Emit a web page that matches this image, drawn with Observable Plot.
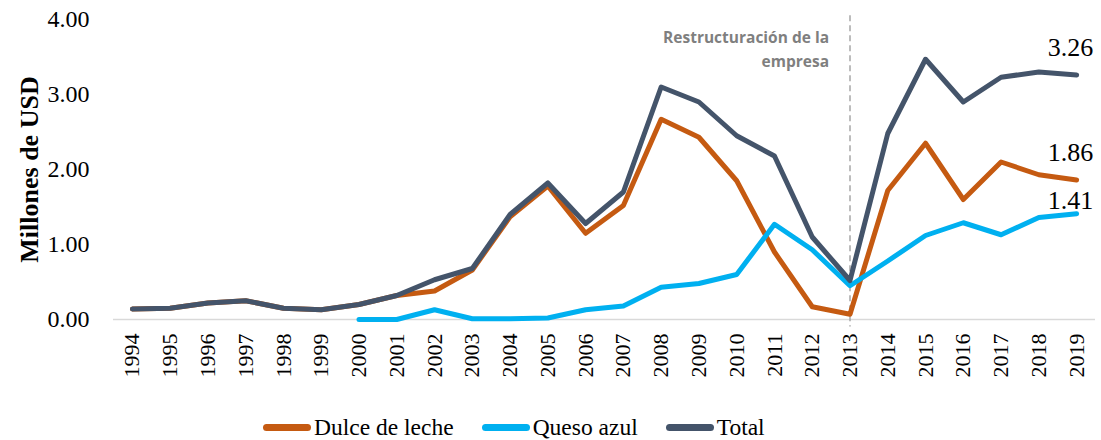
<!DOCTYPE html>
<html>
<head>
<meta charset="utf-8">
<script src="https://cdn.jsdelivr.net/npm/d3@7"></script>
<script src="https://cdn.jsdelivr.net/npm/@observablehq/plot@0.6"></script>
<style>
  body { margin: 0; background: #fff; }
  #chart { width: 1101px; }
  .legend { display: flex; justify-content: flex-start; align-items: center; font-family: "Liberation Serif", serif; font-size: 23.5px; color: #000; margin-top: 12px; padding-left: 263px; height: 30px; }
  .legend .item { display: flex; align-items: center; margin-right: 28px; }
  .legend .sw { width: 48px; height: 7px; border-radius: 4px; margin-right: 3px; }
</style>
</head>
<body>
<div id="chart"></div>
<script>
const years = [1994,1995,1996,1997,1998,1999,2000,2001,2002,2003,2004,2005,2006,2007,2008,2009,2010,2011,2012,2013,2014,2015,2016,2017,2018,2019];
const dulce = [0.14,0.15,0.22,0.25,0.15,0.13,0.20,0.32,0.38,0.66,1.37,1.78,1.15,1.52,2.67,2.43,1.85,0.90,0.17,0.07,1.72,2.35,1.60,2.10,1.93,1.86];
const quesoYears = [2000,2001,2002,2003,2004,2005,2006,2007,2008,2009,2010,2011,2012,2013,2014,2015,2016,2017,2018,2019];
const queso = [0.00,0.00,0.13,0.01,0.01,0.02,0.13,0.18,0.43,0.48,0.60,1.27,0.93,0.45,0.78,1.12,1.29,1.13,1.36,1.41];
const total = [0.14,0.15,0.22,0.25,0.15,0.13,0.20,0.32,0.53,0.68,1.40,1.82,1.28,1.70,3.10,2.90,2.45,2.18,1.10,0.52,2.48,3.47,2.90,3.23,3.30,3.26];
const seriesNames = ["Dulce de leche","Queso azul","Total"];
const colors = ["#C55A11","#00B0F0","#44546A"];
const yTicks = [0,1,2,3,4];
const eventYear = 2013;
const eventLabel = "Restructuración de la\nempresa";
const yTitle = "Millones de USD";
const endLabels = [{v: 3.26, dy: -27}, {v: 1.86, dy: -27}, {v: 1.41, dy: -13}];

const dDulce = years.map((y,i)=>({x:y, v:dulce[i]}));
const dQueso = quesoYears.map((y,i)=>({x:y, v:queso[i]}));
const dTotal = years.map((y,i)=>({x:y, v:total[i]}));
const lastYear = years[years.length-1];

const plot = Plot.plot({
  width: 1101,
  height: 400,
  marginLeft: 113,
  marginRight: 6,
  marginTop: 19,
  marginBottom: 81,
  style: { fontFamily: "Liberation Serif, serif", fontSize: "20px", color: "#000", background: "#fff" },
  x: { domain: [years[0]-0.5, lastYear+0.5], ticks: years, tickFormat: d => String(d) },
  y: { domain: [0, 4], ticks: yTicks, tickFormat: d3.format(".2f") },
  marks: [
    Plot.ruleY([0], { stroke: "#d9d9d9", strokeWidth: 1.5 }),
    Plot.ruleX([eventYear], { y1: 4.05, y2: -0.1, stroke: "#a6a6a6", strokeWidth: 1.5, strokeDasharray: "6,4" }),
    Plot.axisX({ ticks: years, tickFormat: d => String(d), tickRotate: -90, tickSize: 0, tickPadding: 14, fontSize: 22, label: null }),
    Plot.axisY({ ticks: yTicks, tickFormat: d3.format(".2f"), tickSize: 0, tickPadding: 24, fontSize: 24, label: null }),
    Plot.line(dDulce, { x: "x", y: "v", stroke: colors[0], strokeWidth: 5 }),
    Plot.line(dQueso, { x: "x", y: "v", stroke: colors[1], strokeWidth: 5 }),
    Plot.line(dTotal, { x: "x", y: "v", stroke: colors[2], strokeWidth: 5 }),
    ...endLabels.map(l => Plot.text([l.v], { x: lastYear, y: d => d, text: d => d.toFixed(2), dy: l.dy, dx: -6, fontSize: 26, fill: "#000" })),
    Plot.text([eventLabel], { x: eventYear, y: 4, text: d => d, textAnchor: "end", lineAnchor: "top", dx: -21, dy: 6, lineHeight: 1.55, fontSize: 15.5, fontWeight: "bold", fill: "#7f7f7f", fontFamily: "Open Sans, sans-serif" }),
    Plot.text([yTitle], { frameAnchor: "left", text: d => d, rotate: -90, textAnchor: "middle", dx: -84, dy: 0, fontSize: 26, fontWeight: "bold", fill: "#000" })
  ]
});
document.getElementById("chart").appendChild(plot);

const legend = document.createElement("div");
legend.className = "legend";
seriesNames.forEach((n,i) => {
  const it = document.createElement("div");
  it.className = "item";
  const sw = document.createElement("span");
  sw.className = "sw";
  sw.style.background = colors[i];
  const tx = document.createElement("span");
  tx.textContent = n;
  it.appendChild(sw); it.appendChild(tx);
  legend.appendChild(it);
});
document.getElementById("chart").appendChild(legend);
</script>
</body>
</html>
